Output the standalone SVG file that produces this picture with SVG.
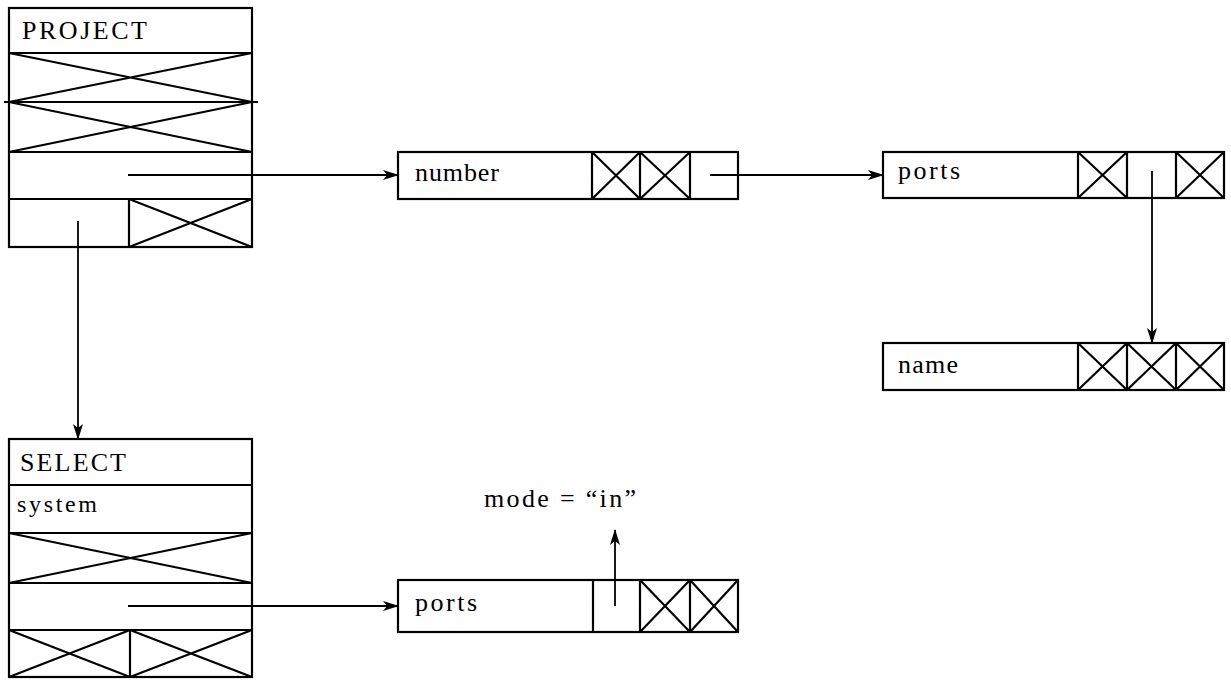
<svg xmlns="http://www.w3.org/2000/svg" width="1231" height="684" viewBox="0 0 1231 684">
<defs>
<marker id="ah" viewBox="0 0 16 10" refX="15" refY="5" markerWidth="16" markerHeight="10" markerUnits="userSpaceOnUse" orient="auto">
<path d="M0,0 L16,5 L0,10 L4,5 Z" fill="#000"/>
</marker>
</defs>
<style>
.b{fill:#fff;stroke:#000;stroke-width:2.2}
.l{stroke:#000;stroke-width:2.2;fill:none}
.c{stroke:#000;stroke-width:1.8;fill:none}
.t{font-family:"Liberation Serif",serif;font-size:26px;fill:#000}
</style>
<g id="project">
<rect class="b" x="9" y="8" width="243" height="239"/>
<line class="l" x1="9" y1="53" x2="252" y2="53"/>
<line class="l" x1="4" y1="102" x2="258" y2="102"/>
<line class="l" x1="9" y1="152" x2="252" y2="152"/>
<line class="l" x1="9" y1="199" x2="252" y2="199"/>
<line class="l" x1="129" y1="199" x2="129" y2="247"/>
<path class="l" d="M9,53 L252,102 M252,53 L9,102 M9,102 L252,152 M252,102 L9,152 M129,199 L252,247 M252,199 L129,247"/>
<text class="t" x="22" y="39" textLength="125" lengthAdjust="spacing">PROJECT</text>
</g>
<g id="number">
<rect class="b" x="398" y="152" width="340" height="47"/>
<path class="l" d="M592,152 V199 M640,152 V199 M690,152 V199 M592,152 L640,199 M640,152 L592,199 M640,152 L690,199 M690,152 L640,199"/>
<text class="t" x="415" y="181" textLength="84" lengthAdjust="spacing">number</text>
</g>
<g id="ports1">
<rect class="b" x="883" y="152" width="341" height="46"/>
<path class="l" d="M1078,152 V198 M1127,152 V198 M1176,152 V198 M1078,152 L1127,198 M1127,152 L1078,198 M1176,152 L1224,198 M1224,152 L1176,198"/>
<text class="t" x="898" y="179" textLength="62" lengthAdjust="spacing">ports</text>
</g>
<g id="name">
<rect class="b" x="883" y="343" width="341" height="47"/>
<path class="l" d="M1078,343 V390 M1127,343 V390 M1176,343 V390 M1078,343 L1127,390 M1127,343 L1078,390 M1127,343 L1176,390 M1176,343 L1127,390 M1176,343 L1224,390 M1224,343 L1176,390"/>
<text class="t" x="898" y="373" textLength="60" lengthAdjust="spacing">name</text>
</g>
<g id="select">
<rect class="b" x="9" y="439" width="243" height="238"/>
<line class="l" x1="9" y1="485" x2="252" y2="485"/>
<line class="l" x1="9" y1="533" x2="252" y2="533"/>
<line class="l" x1="9" y1="583" x2="252" y2="583"/>
<line class="l" x1="9" y1="630" x2="252" y2="630"/>
<line class="l" x1="130" y1="630" x2="130" y2="677"/>
<path class="l" d="M9,533 L252,583 M252,533 L9,583 M9,630 L130,677 M130,630 L9,677 M130,630 L252,677 M252,630 L130,677"/>
<text class="t" x="20" y="471" textLength="106" lengthAdjust="spacing">SELECT</text>
<text class="t" x="17" y="512" style="font-size:24px" textLength="80" lengthAdjust="spacing">system</text>
</g>
<g id="ports2">
<rect class="b" x="398" y="580" width="340" height="52"/>
<path class="l" d="M593,580 V632 M640,580 V632 M690,580 V632 M640,580 L690,632 M690,580 L640,632 M690,580 L738,632 M738,580 L690,632"/>
<text class="t" x="415" y="611" textLength="62" lengthAdjust="spacing">ports</text>
</g>
<g id="mode-label">
<text class="t" x="484" y="507" textLength="152" lengthAdjust="spacing">mode = “in”</text>
</g>
<g id="connectors">
<line class="c" x1="128" y1="175" x2="398" y2="175" marker-end="url(#ah)"/>
<line class="c" x1="710" y1="175" x2="883" y2="175" marker-end="url(#ah)"/>
<line class="c" x1="1152" y1="171" x2="1152" y2="343" marker-end="url(#ah)"/>
<line class="c" x1="78" y1="221" x2="78" y2="439" marker-end="url(#ah)"/>
<line class="c" x1="128" y1="606" x2="398" y2="606" marker-end="url(#ah)"/>
<line class="c" x1="615" y1="606" x2="615" y2="530" marker-end="url(#ah)"/>
</g>
</svg>
